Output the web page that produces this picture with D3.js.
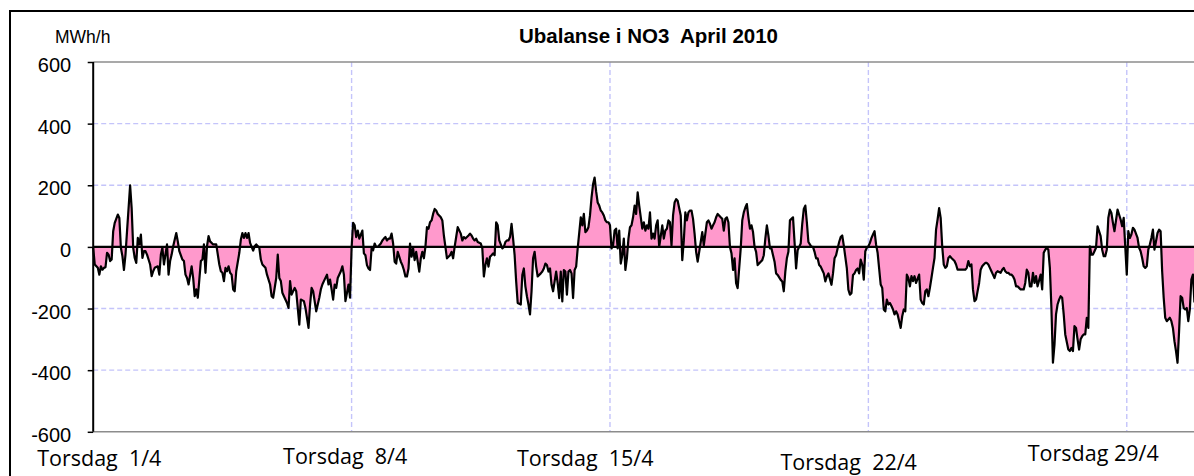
<!DOCTYPE html>
<html>
<head>
<meta charset="utf-8">
<script src="https://cdn.jsdelivr.net/npm/d3@7"></script>
<style>
  body { margin: 0; background: #fff; }
  svg { display: block; }
</style>
</head>
<body>
<svg id="chart" width="1194" height="476"></svg>
<script>
// ---------- data (hour offset from 1 April 00:00, imbalance in MWh/h) ----------
const hours = [
  0,1,3,4,5,6,7,8,9,10,11,12,13,14,16,17,18,19,20,21,22,24,25,26,27,28,29,30,31,32,33,34,35,36,37,38,39,40,
  42,43,44,45,46,48,49,50,51,52,54,55,56,58,59,60,61,62,64,65,66,67,68,69,70,71,72,73,74,75,76,78,80,
  82,83,84,85,86,87,88,89,90,91,92,93,95,96,97,98,99,100,101,102,104,105,106,108,109,110,112,113,115,116,117,
  119,120,121,122,123,124,126,127,128,129,131,132,134,135,137,138,140,141,142,143,145,146,147,148,149,150,
  152,153,154,155,156,157,158,159,161,162,163,164,166,167,168,169,
  170,171,172,173,175,176,177,178,179,180,181,182,183,184,185,187,188,189,190,191,192,193,194,195,196,197,198,
  200,201,202,203,204,205,206,207,208,209,210,211,212,213,214,215,216,217,218,219,220,221,222,223,224,
  226,227,228,229,230,231,232,233,234,235,236,237,239,240,241,242,243,244,245,246,247,248,249,250,
  252,253,254,255,256,257,258,259,260,261,262,263,264,266,267,268,269,270,271,272,273,274,275,276,
  278,279,280,281,282,283,284,285,286,287,288,289,
  291,292,293,294,295,296,297,298,299,300,301,302,303,304,305,306,307,308,309,310,311,312,313,314,315,
  317,318,319,320,321,322,323,324,325,326,327,328,329,330,331,332,333,334,335,336,337,338,339,340,341,
  342,343,344,345,346,347,348,349,350,351,352,353,354,355,357,358,359,360,361,362,363,364,365,366,367,368,
  370,371,372,373,374,375,376,377,378,379,380,382,383,384,385,386,387,388,389,390,391,392,393,
  395,396,397,398,399,400,401,402,403,404,405,406,408,409,410,411,412,413,414,415,416,417,418,419,
  421,422,423,424,425,426,427,428,429,430,431,432,434,435,436,437,438,439,440,441,442,443,444,445,
  447,448,449,450,451,452,453,454,455,456,457,458,459,460,461,462,463,464,465,
  467,468,469,470,471,472,473,474,475,476,477,478,480,481,482,483,484,485,486,487,488,
  490,491,492,493,494,495,496,497,498,
  499,500,501,502,503,504,505,506,507,508,509,510,512,513,514,515,516,517,518,519,520,521,522,523,
  525,526,527,528,529,530,531,532,533,534,535,
  537,538,539,540,541,542,543,544,545,546,547,548,549,550,551,552,553,554,555,556,557,558,559,560,561,562,
  564,565,566,567,568,569,570,571,572,573,574,576,577,578,579,580,581,582,583,584,585,586,587,588,
  590,591,592,593,594,595,596,597,598,599,600,601,602,603,605,606,607,608,609,610,611,612,613,614,
  616,617,618,619,620,621,622,623,624,625,626,627,628,629,630,631,632,
  634,635,636,637,638,639,640,641,642,643,644,645,646,647,648,649,650,651,652,653,
  655,656,657,658,659,660,661,662,663,664,666,667,668,669,670,671,672,673,674,675,676,677,
  679,680,681,682,683,684,685,686,687,688,689,690,692,693,694,695,696,697,698,
  700,701,702,703,704,705,706,707,708,709,710,711,712,713,714,715,716
];
const mwh = [
  -3,-57,-68,-90,-63,-74,-68,-66,-19,-25,-46,-41,51,78,105,94,-3,-30,-75,-25,51,200,126,-3,-36,-52,29,8,40,-36,-14,-14,-25,-41,-57,-95,-79,-68,
  -63,-90,-25,-3,-57,8,-90,-46,-25,2,45,18,-14,-41,-46,-90,-101,-122,-63,-101,-160,-138,-165,-106,-46,-41,8,-84,2,35,18,8,8,
  -57,-79,-84,-111,-68,-79,-63,-84,-90,-138,-144,-79,-19,24,45,29,45,29,45,13,-12,2,8,-3,-41,-57,-68,-90,-122,-160,-165,
  -101,-25,-101,-111,-149,-160,-182,-198,-111,-155,-133,-144,-252,-171,-176,-198,-263,-187,-133,-144,-209,-187,-165,-138,-122,-111,
  -90,-122,-106,-138,-171,-122,-133,-101,-79,-63,-90,-176,-122,-165,-3,78,
  70,32,53,27,53,-21,-27,-59,-70,-75,-5,-11,11,0,0,11,21,27,32,21,27,27,43,11,-48,-54,-16,
  -48,-59,-75,-96,-96,-70,11,-32,-5,-43,-16,-48,-80,-37,-16,-37,0,64,59,80,86,107,123,118,107,
  96,86,37,0,-37,-32,-27,-16,-37,0,32,64,43,21,32,27,32,37,43,37,27,21,27,16,
  11,-5,-96,-59,-37,-64,-32,-27,-21,-27,80,70,21,-5,0,16,21,21,32,75,27,-27,-112,-182,
  -187,-91,-70,-128,-160,-187,-219,-144,-37,-16,-64,-96,
  -86,-80,-70,-54,-59,-80,-70,-123,-144,-112,-80,-118,-166,-80,-177,-75,-80,-155,-80,-75,-86,-166,-75,-64,-5,
  96,70,107,48,53,64,102,160,203,225,180,144,134,118,112,102,86,80,80,70,-5,5,53,59,-5,
  53,-54,-27,27,-75,-37,27,64,70,96,134,107,177,134,59,80,53,70,59,112,27,43,27,70,86,0,
  70,27,53,59,86,80,5,102,144,155,150,102,-43,21,112,86,112,118,118,91,43,-16,-48,
  16,48,5,43,80,86,75,59,70,80,96,107,96,91,53,91,96,80,0,-21,-75,-37,-118,-134,
  -5,86,112,128,139,96,59,70,48,0,-16,-59,-48,-43,-27,27,70,37,-5,-5,-27,-48,-86,-91,
  -107,-112,-144,-80,-37,-16,86,91,96,16,-70,-11,0,11,75,123,134,80,16,
  0,0,-16,-37,-37,-59,-64,-75,-86,-112,-96,-86,-123,-86,-37,-27,-5,16,32,37,5,
  -70,-139,-155,-150,-91,-86,-75,-70,-86,
  -41,-57,-106,-14,-3,2,13,29,40,51,8,-19,-122,-133,-203,-209,-171,-187,-182,-192,-203,-219,-209,-219,
  -263,-225,-203,-209,-90,-101,-128,-95,-111,-95,-117,
  -90,-171,-182,-187,-144,-138,-160,-133,-101,-68,-36,56,89,126,94,2,-57,-68,-63,-36,-30,-36,-41,-46,-57,-74,
  -74,-74,-74,-74,-68,-46,-63,-57,-138,-176,-171,-117,-74,-63,-57,-52,-52,-57,-68,-79,-90,-101,-84,-79,
  -84,-74,-68,-79,-84,-84,-90,-90,-95,-106,-128,-128,-133,-138,-138,-117,-74,-84,-128,-128,-84,-117,-95,-128,
  -90,-138,-19,-9,-3,-9,-68,-198,-376,-317,-219,-187,-171,-160,-165,-219,-284,
  -333,-338,-328,-338,-257,-263,-300,-333,-300,-290,-284,-284,-230,-263,2,-25,-25,-14,-3,67,
  35,-9,-30,-30,-9,94,121,110,78,51,121,105,89,67,94,2,-90,51,29,40,62,56,
  29,-3,-14,-36,-63,-68,-63,-9,8,29,56,-9,45,56,51,-79,-165,-230,-241,
  -230,-241,-263,-306,-338,-376,-274,-160,-165,-198,-203,-198,-241,-203,-106,-90,-180
];
const yTicks = [600, 400, 200, 0, -200, -400, -600];
const yGrid = [400, 200, -200, -400];
const weekHours = [0, 168, 336, 504, 672];
const gridHours = [168, 336, 504, 672];
const weekLabels = ["Torsdag  1/4", "Torsdag  8/4", "Torsdag  15/4", "Torsdag  22/4", "Torsdag 29/4"];
const titleText = "Ubalanse i NO3  April 2010";
const unitText = "MWh/h";
const monthHours = 720;

if (hours.length !== mwh.length) console.error("length mismatch", hours.length, mwh.length);
const data = hours.map((h, i) => ({ h: h, v: mwh[i] }));

// ---------- layout ----------
const plot = { left: 93.2, right: 1200.6, top: 62, bottom: 431.8 };
const labelLayout = [
  { dx: -56, y: 466 }, { dx: -68.5, y: 464 }, { dx: -93, y: 466 }, { dx: -88, y: 469.5 }, { dx: -99, y: 461 }
];

const svg = d3.select("#chart");
const x = d3.scaleLinear().domain([0, monthHours]).range([plot.left, plot.right]);
const y = d3.scaleLinear().domain([-600, 600]).range([plot.bottom, plot.top]);

const gridColor = "#c4c4fa";

// horizontal dashed gridlines
svg.append("g").selectAll("line").data(yGrid).join("line")
  .attr("x1", plot.left).attr("x2", plot.right)
  .attr("y1", d => y(d)).attr("y2", d => y(d))
  .attr("stroke", gridColor).attr("stroke-width", 1.4).attr("stroke-dasharray", "5,3");

// vertical dashed gridlines (weekly)
svg.append("g").selectAll("line").data(gridHours).join("line")
  .attr("x1", d => x(d)).attr("x2", d => x(d))
  .attr("y1", plot.top).attr("y2", plot.bottom)
  .attr("stroke", gridColor).attr("stroke-width", 1.4).attr("stroke-dasharray", "5,3");

// top / bottom plot borders (grey)
svg.append("g").selectAll("line").data([600, -600]).join("line")
  .attr("x1", plot.left).attr("x2", plot.right)
  .attr("y1", d => y(d)).attr("y2", d => y(d))
  .attr("stroke", "#8c8c8c").attr("stroke-width", 1.6);

// area + line
const area = d3.area().x(d => x(d.h)).y0(y(0)).y1(d => y(d.v));
const line = d3.line().x(d => x(d.h)).y(d => y(d.v));
svg.append("path").datum(data).attr("d", area).attr("fill", "#ff99cc");
svg.append("path").datum(data).attr("d", line)
  .attr("fill", "none").attr("stroke", "#000").attr("stroke-width", 2.2).attr("stroke-linejoin", "round");

// zero line
svg.append("line")
  .attr("x1", plot.left).attr("x2", plot.right)
  .attr("y1", y(0)).attr("y2", y(0))
  .attr("stroke", "#000").attr("stroke-width", 2.4);

// y axis
const yAxis = d3.axisLeft(y).tickValues(yTicks).tickSize(5.5).tickPadding(16.5).tickFormat(d => String(d));
const gy = svg.append("g").attr("transform", `translate(${plot.left},0)`).call(yAxis);
gy.select(".domain").remove();
gy.selectAll(".tick line").attr("stroke", "#000").attr("stroke-width", 1.5);
gy.selectAll(".tick text")
  .attr("dy", "9.5px")
  .attr("fill", "#000")
  .style("font-family", "'Liberation Sans', Arial, sans-serif")
  .style("font-size", "20px");
svg.append("line")
  .attr("x1", plot.left).attr("x2", plot.left)
  .attr("y1", plot.top).attr("y2", plot.bottom)
  .attr("stroke", "#000").attr("stroke-width", 2);

// x labels (weeks)
svg.append("g").selectAll("text").data(weekLabels).join("text")
  .attr("x", (d, i) => x(weekHours[i]) + labelLayout[i].dx)
  .attr("y", (d, i) => labelLayout[i].y)
  .attr("xml:space", "preserve")
  .style("white-space", "pre")
  .style("font-family", "'Open Sans', sans-serif")
  .style("font-size", "21.5px")
  .attr("fill", "#000")
  .text(d => d);

// title + unit
svg.append("text")
  .attr("x", 648.5).attr("y", 42.7)
  .attr("text-anchor", "middle")
  .attr("xml:space", "preserve")
  .style("white-space", "pre")
  .style("font-family", "'Liberation Sans', Arial, sans-serif")
  .style("font-size", "20.5px").style("font-weight", "bold")
  .text(titleText);
svg.append("text")
  .attr("x", 55).attr("y", 42.7)
  .style("font-family", "'Liberation Sans', Arial, sans-serif")
  .style("font-size", "17.5px")
  .text(unitText);

// outer chart frame
svg.append("rect")
  .attr("x", 10).attr("y", 11).attr("width", 1260).attr("height", 520)
  .attr("fill", "none").attr("stroke", "#000").attr("stroke-width", 2);
</script>
</body>
</html>
